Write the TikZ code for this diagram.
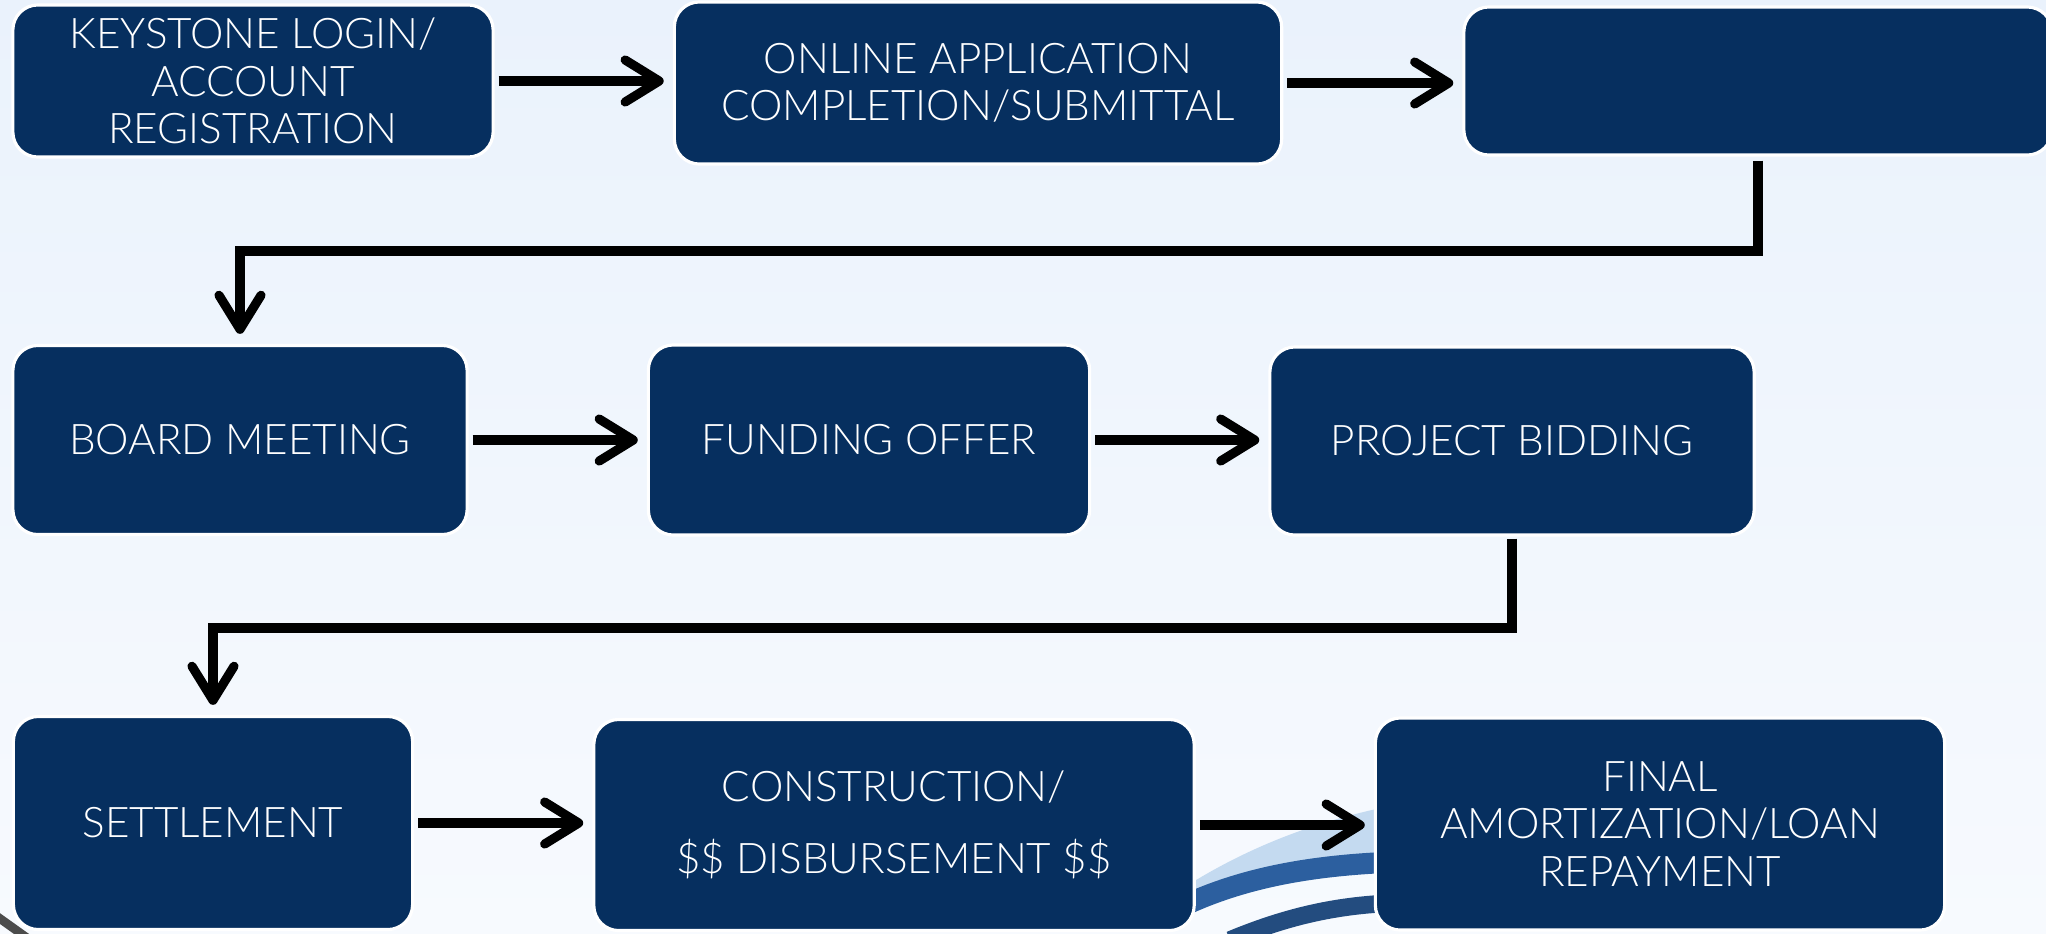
\documentclass[tikz,border=0pt]{standalone}
\usepackage{fontspec}
\setmainfont{Lato}[UprightFont={* Light}]
\usepackage{tikz}
\usetikzlibrary{arrows.meta}
\usetikzlibrary{positioning}
\definecolor{navy}{HTML}{062F5F}
\definecolor{bgtop}{HTML}{EAF2FC}
\definecolor{bgbot}{HTML}{F7FAFE}
\definecolor{swoosh}{HTML}{2C5F9F}
\definecolor{swooshlight}{HTML}{C4DAF0}

\begin{document}
\begin{tikzpicture}[x=0.01cm,y=-0.01cm,
    stepbox/.style={draw=white,line width=0.9pt,fill=navy,rounded corners=0.25cm,
        text=white,align=center,inner sep=0pt,
        font=\fontsize{12}{13.5}\selectfont},
    flow/.style={line width=2.6pt,
        -{Straight Barb[length=0.34cm,width=0.42cm,line cap=round,line join=round]}}]

% background
\useasboundingbox (0,0) rectangle (2046,933);
\fill[top color=bgtop,bottom color=bgbot] (0,0) rectangle (2046,933);
\begin{scope}
\clip (0,0) rectangle (2046,933);
\fill[swooshlight] (1180,890) .. controls (1250,845) and (1320,820) .. (1395,805)
    -- (1395,850) .. controls (1320,860) and (1250,880) .. (1185,915) -- cycle;
\draw[swoosh,line width=6pt] (1185,905) .. controls (1250,875) and (1320,865) .. (1395,862);
\draw[swoosh!80!black,line width=5pt] (1230,940) .. controls (1290,915) and (1340,905) .. (1395,903);
\draw[black!70,line width=2.5pt] (-5,915) -- (30,940);
\end{scope}

% first row
\node[stepbox,minimum width=4.8cm,minimum height=1.52cm] (login) at (253,81)
    {KEYSTONE LOGIN/\\ACCOUNT\\REGISTRATION};
\node[stepbox,minimum width=6.07cm,minimum height=1.62cm] (apply) at (978,83)
    {ONLINE APPLICATION\\COMPLETION/SUBMITTAL};
\node[stepbox,minimum width=5.88cm,minimum height=1.48cm] (review) at (1758,81) {};

% second row
\node[stepbox,minimum width=4.54cm,minimum height=1.89cm] (board) at (240,440) {BOARD MEETING};
\node[stepbox,minimum width=4.41cm,minimum height=1.90cm] (offer) at (869,440) {FUNDING OFFER};
\node[stepbox,minimum width=4.84cm,minimum height=1.88cm] (bidding) at (1512,441) {PROJECT BIDDING};

% third row
\node[stepbox,minimum width=3.99cm,minimum height=2.13cm] (settle) at (213,823) {SETTLEMENT};
\node[stepbox,minimum width=6.00cm,minimum height=2.11cm] (build) at (894,825)
    {CONSTRUCTION/\\[7pt]\$\$ DISBURSEMENT \$\$};
\node[stepbox,minimum width=5.69cm,minimum height=2.12cm] (repay) at (1660,824)
    {FINAL\\AMORTIZATION/LOAN\\REPAYMENT};

% arrows along the rows
\foreach \a/\b in {login/apply,apply/review,board/offer,offer/bidding,settle/build,build/repay} {
    \draw[flow,shorten <=0.04cm,shorten >=0.09cm] (\a.east) -- (\a.east -| \b.west);
}

% arrows down to the next row
\coordinate (turnA) at (0,251);
\coordinate (turnB) at (0,628);
\draw[flow,shorten <=0.04cm,shorten >=0.1cm] (review.south) -- (review.south |- turnA) -| (board.north);
\draw[flow,shorten <=0.02cm,shorten >=0.1cm] (bidding.south) -- (bidding.south |- turnB) -| (settle.north);

\end{tikzpicture}
\end{document}
